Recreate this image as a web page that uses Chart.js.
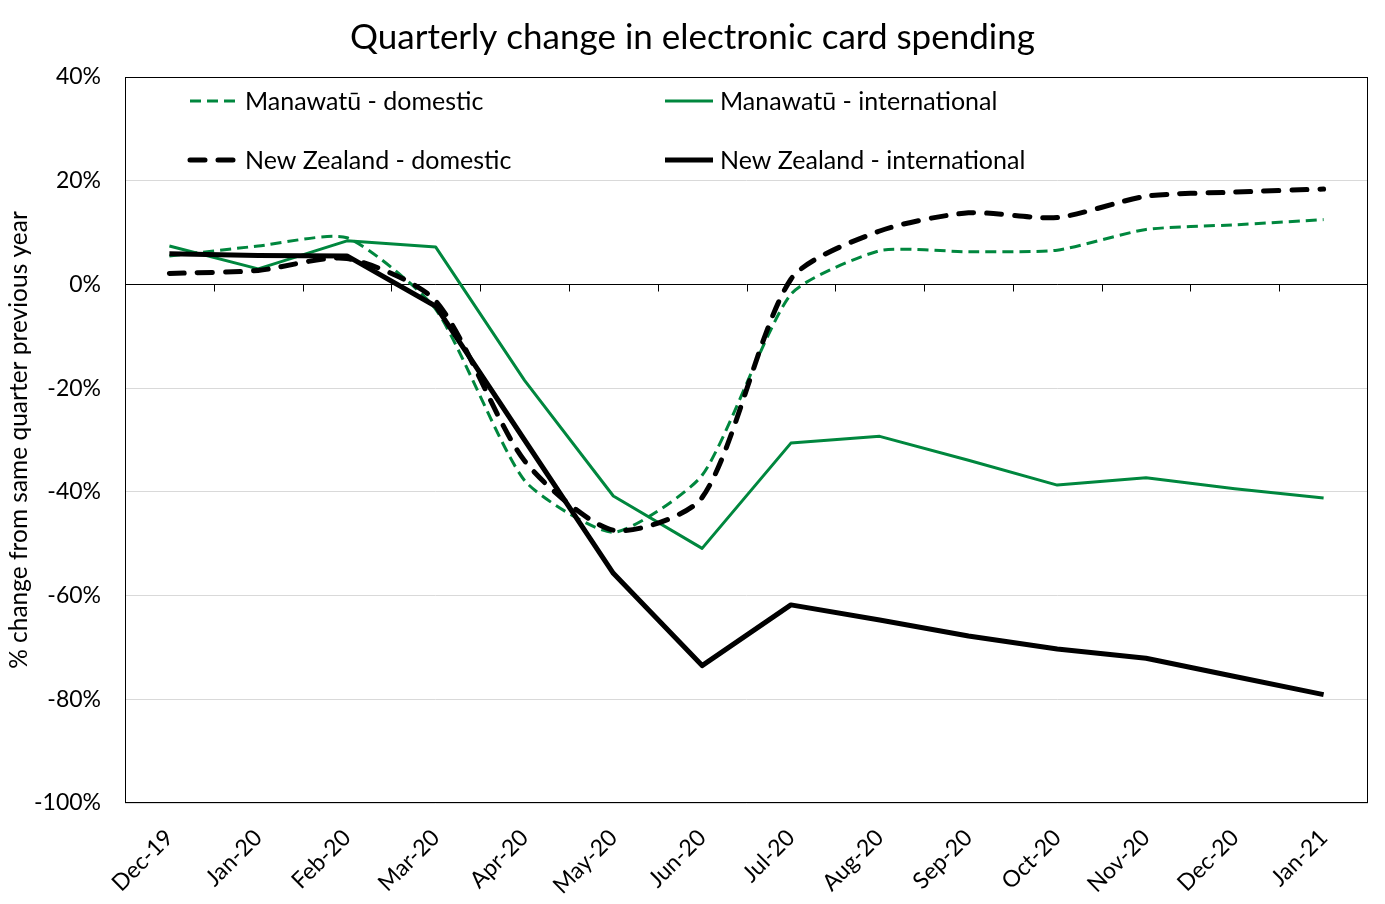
<!DOCTYPE html>
<html>
<head>
<meta charset="utf-8">
<script src="https://cdn.jsdelivr.net/npm/chart.js@4"></script>
<style>
  html, body { margin: 0; padding: 0; background: #fff; }
  #wrap { width: 1385px; height: 904px; }
</style>
</head>
<body>
<div id="wrap"><canvas id="chart"></canvas></div>
<script>
const months = ['Dec-19', 'Jan-20', 'Feb-20', 'Mar-20', 'Apr-20', 'May-20', 'Jun-20',
  'Jul-20', 'Aug-20', 'Sep-20', 'Oct-20', 'Nov-20', 'Dec-20', 'Jan-21'];

// % change from the same quarter of the previous year
const manawatuDomestic = [5.5, 7.4, 9.0, -4.8, -37.8, -47.8, -36.8, -1.9, 6.5, 6.3, 6.6, 10.6, 11.5, 12.5];
const manawatuIntl = [7.4, 3.0, 8.4, 7.2, -18.5, -40.8, -50.9, -30.6, -29.3, -33.9, -38.7, -37.3, -39.4, -41.2];
const nzDomestic = [2.1, 2.7, 5.0, -3.2, -34.0, -47.4, -41.1, 1.0, 10.3, 13.8, 12.9, 17.0, 17.8, 18.4];
const nzIntl = [5.9, 5.6, 5.5, -4.2, -30.0, -55.7, -73.5, -61.8, -64.7, -67.8, -70.3, -72.1, -75.6, -79.1];

const yMin = -100, yMax = 40, yStep = 20;

const GREEN = '#00873e';
const FONT = 'Lato, "Open Sans", sans-serif';

Chart.defaults.font.family = FONT;
Chart.defaults.color = '#000';

// plot frame plus the zero axis with its category tick marks
const framePlugin = {
  id: 'frame',
  beforeDatasetsDraw(chart) {
    const { ctx, chartArea: a, scales: { x, y } } = chart;
    ctx.save();
    ctx.strokeStyle = '#000';
    ctx.lineWidth = 1;
    ctx.strokeRect(a.left + 0.5, a.top + 0.5, a.width - 1, a.height - 1);
    const y0 = Math.round(y.getPixelForValue(0)) + 0.5;
    const step = x.getPixelForValue(1) - x.getPixelForValue(0);
    ctx.beginPath();
    ctx.moveTo(a.left, y0);
    ctx.lineTo(a.right, y0);
    for (let i = 1; i < months.length; i++) {
      const px = Math.round(x.getPixelForValue(i) - step / 2) + 0.5;
      ctx.moveTo(px, y0);
      ctx.lineTo(px, y0 + 7);
    }
    ctx.stroke();
    ctx.restore();
  }
};

// two-column legend inside the plot area
const legendPlugin = {
  id: 'boxLegend',
  afterDraw(chart) {
    const { ctx, chartArea: a } = chart;
    const cols = [a.left + 63, a.left + 538];
    const rows = [a.top + 24, a.top + 83];
    chart.data.datasets.forEach((ds, i) => {
      const lx = cols[i % 2], ly = rows[Math.floor(i / 2)];
      ctx.save();
      ctx.strokeStyle = ds.borderColor;
      ctx.lineWidth = ds.borderWidth;
      ctx.setLineDash(ds.borderDash || []);
      ctx.lineCap = ds.borderCapStyle || 'butt';
      ctx.beginPath();
      ctx.moveTo(lx + 2, ly);
      ctx.lineTo(lx + 50, ly);
      ctx.stroke();
      ctx.fillStyle = '#000';
      ctx.font = '25px ' + FONT;
      ctx.textBaseline = 'middle';
      ctx.fillText(ds.label, lx + 57, ly + 1);
      ctx.restore();
    });
  }
};

const datasets = [
  {
    label: 'Manawatū - domestic',
    data: manawatuDomestic,
    borderColor: GREEN,
    borderWidth: 3,
    borderDash: [11, 6],
    tension: 0.2,
    order: 2,
  },
  {
    label: 'Manawatū - international',
    data: manawatuIntl,
    borderColor: GREEN,
    borderWidth: 3,
    tension: 0,
    order: 3,
  },
  {
    label: 'New Zealand - domestic',
    data: nzDomestic,
    borderColor: '#000',
    borderWidth: 5,
    borderDash: [15, 13],
    borderCapStyle: 'round',
    tension: 0.25,
    order: 0,
  },
  {
    label: 'New Zealand - international',
    data: nzIntl,
    borderColor: '#000',
    borderWidth: 5,
    tension: 0,
    order: 1,
  },
].map(d => ({ ...d, fill: false, pointRadius: 0, pointHoverRadius: 0, borderJoinStyle: 'round' }));

new Chart(document.getElementById('chart'), {
  type: 'line',
  data: { labels: months, datasets },
  options: {
    responsive: true,
    maintainAspectRatio: false,
    animation: false,
    layout: { padding: { left: 17, right: 17 } },
    plugins: {
      legend: { display: false },
      tooltip: { enabled: false },
      title: {
        display: true,
        text: 'Quarterly change in electronic card spending',
        font: { size: 35, weight: 'normal', lineHeight: 1.2 },
        color: '#000',
        padding: { top: 17, bottom: 18 },
      },
    },
    scales: {
      x: {
        offset: true,
        grid: { display: false },
        border: { display: false },
        ticks: { font: { size: 23 }, maxRotation: 45, minRotation: 45, padding: 13 },
        afterFit(scale) { scale.height = 101; },
      },
      y: {
        min: yMin,
        max: yMax,
        grid: { color: '#d9d9d9', drawTicks: false },
        border: { display: false },
        ticks: {
          stepSize: yStep,
          font: { size: 23 },
          padding: 24,
          callback: v => v + '%',
        },
        title: {
          display: true,
          text: '% change from same quarter previous year',
          font: { size: 24.5 },
          padding: { top: -13, bottom: 0 },
        },
        afterFit(scale) { scale.width = 108; },
      },
    },
  },
  plugins: [framePlugin, legendPlugin],
});
</script>
</body>
</html>
